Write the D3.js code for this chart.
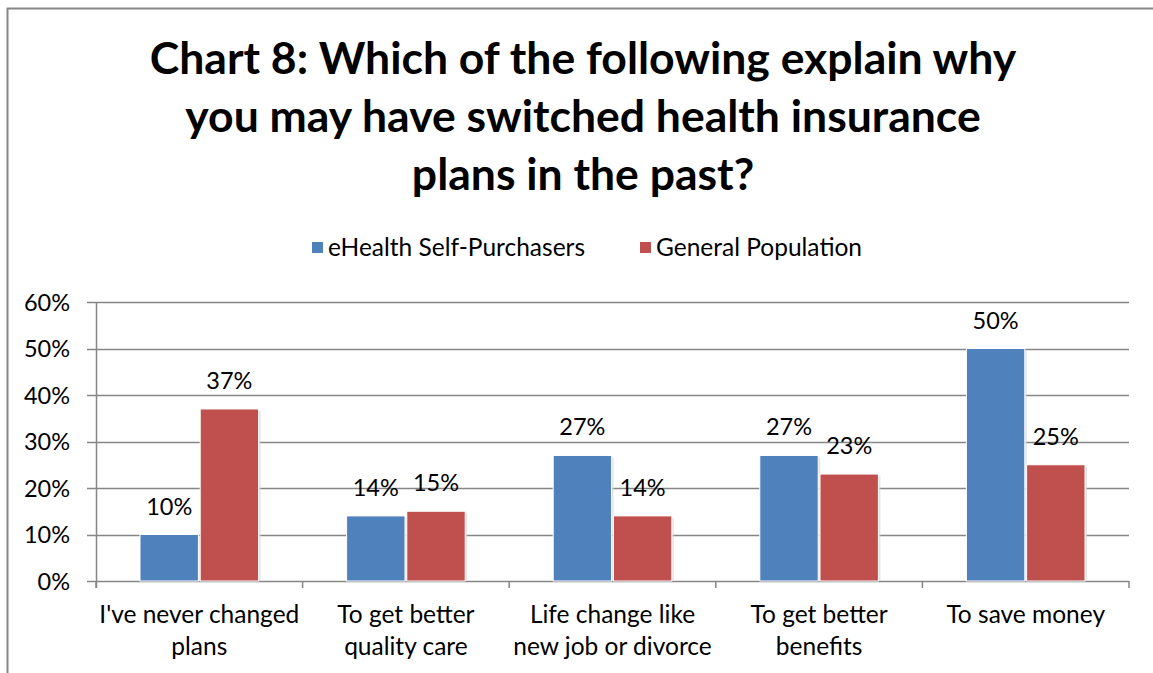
<!DOCTYPE html>
<html>
<head>
<meta charset="utf-8">
<script src="https://cdn.jsdelivr.net/npm/d3@7"></script>
<style>
  html, body { margin: 0; padding: 0; background: #fff; }
  svg { display: block; font-family: Lato, "Open Sans", sans-serif; }
</style>
</head>
<body>
<svg id="chart" width="1153" height="673"></svg>
<script>
// Survey answers and the share of each group choosing them
const categories = [
  ["I've never changed", "plans"],
  ["To get better", "quality care"],
  ["Life change like", "new job or divorce"],
  ["To get better", "benefits"],
  ["To save money"]
];
const seriesNames = ["eHealth Self-Purchasers", "General Population"];
const eHealthValues = [10, 14, 27, 27, 50];
const generalValues = [37, 15, 14, 23, 25];
const yTicks = [0, 10, 20, 30, 40, 50, 60];
const titleLines = [
  "Chart 8: Which of the following explain why",
  "you may have switched health insurance",
  "plans in the past?"
];
const colors = ["#4F81BD", "#C0504D"];

const svg = d3.select("#chart");

// outer frame
svg.append("rect")
  .attr("x", 7.5).attr("y", 8.5)
  .attr("width", 1160).attr("height", 680)
  .attr("fill", "none").attr("stroke", "#868686").attr("stroke-width", 2);

// title
svg.append("g").selectAll("text").data(titleLines).join("text")
  .attr("x", 583).attr("y", (d, i) => 74 + i * 58)
  .attr("text-anchor", "middle")
  .attr("font-size", 44.5).attr("font-weight", "bold").attr("fill", "#000")
  .text(d => d);

// legend
const legendX = [312, 640];
const legend = svg.append("g");
seriesNames.forEach((name, i) => {
  legend.append("rect")
    .attr("x", legendX[i]).attr("y", 242)
    .attr("width", 11).attr("height", 11)
    .attr("fill", colors[i]);
  legend.append("text")
    .attr("x", legendX[i] + 16).attr("y", 256)
    .attr("font-size", 24.5).attr("fill", "#000")
    .text(name);
});

// scales
const plotLeft = 96, plotRight = 1129, plotTop = 302, plotBottom = 581;
const x = d3.scaleBand().domain(d3.range(categories.length)).range([plotLeft, plotRight]);
const y = d3.scaleLinear().domain([0, 60]).range([plotBottom, plotTop]);
const groupPad = 44;
const xInner = d3.scaleBand().domain([0, 1])
  .range([0, x.bandwidth() - 2 * groupPad]).paddingInner(0.03);

// gridlines with outer tick marks
svg.append("g").selectAll("line").data(yTicks).join("line")
  .attr("x1", plotLeft - 9).attr("x2", plotRight)
  .attr("y1", d => Math.round(y(d)) + 0.5).attr("y2", d => Math.round(y(d)) + 0.5)
  .attr("stroke", "#868686").attr("stroke-width", 1.5);

// y axis labels
svg.append("g").selectAll("text").data(yTicks).join("text")
  .attr("x", 70).attr("y", d => y(d) + 8.5)
  .attr("text-anchor", "end").attr("font-size", 23.5).attr("fill", "#000")
  .text(d => d + "%");

// bars
const data = [eHealthValues, generalValues];
const barsG = svg.append("g");
data.forEach((vals, s) => {
  // soft shadow
  barsG.append("g").selectAll("rect").data(vals).join("rect")
    .attr("x", (d, i) => x(i) + groupPad + xInner(s) + 2)
    .attr("y", d => y(d) + 2)
    .attr("width", xInner.bandwidth())
    .attr("height", d => plotBottom - y(d) - 2)
    .attr("fill", "#d9d9d9").attr("opacity", 0.7);
  barsG.append("g").selectAll("rect").data(vals).join("rect")
    .attr("x", (d, i) => x(i) + groupPad + xInner(s))
    .attr("y", d => y(d))
    .attr("width", xInner.bandwidth())
    .attr("height", d => plotBottom - y(d))
    .attr("fill", colors[s])
    .attr("stroke", "#fff").attr("stroke-width", 1);
  barsG.append("g").selectAll("text").data(vals).join("text")
    .attr("x", (d, i) => x(i) + groupPad + xInner(s) + xInner.bandwidth() / 2)
    .attr("y", d => y(d) - 20)
    .attr("text-anchor", "middle").attr("font-size", 23.5).attr("fill", "#000")
    .text(d => d + "%");
});

// axes lines
svg.append("line")
  .attr("x1", plotLeft + 0.5).attr("x2", plotLeft + 0.5)
  .attr("y1", plotTop).attr("y2", plotBottom + 7)
  .attr("stroke", "#868686").attr("stroke-width", 1.5);
svg.append("g").selectAll("line").data(d3.range(categories.length + 1)).join("line")
  .attr("x1", i => i < categories.length ? x(i) : plotRight)
  .attr("x2", i => i < categories.length ? x(i) : plotRight)
  .attr("y1", plotBottom).attr("y2", plotBottom + 7)
  .attr("stroke", "#868686").attr("stroke-width", 1.5);

// category labels
const catG = svg.append("g").selectAll("text").data(categories).join("text")
  .attr("text-anchor", "middle").attr("font-size", 24.5).attr("fill", "#000");
catG.each(function(lines, i) {
  d3.select(this).selectAll("tspan").data(lines).join("tspan")
    .attr("x", x(i) + x.bandwidth() / 2)
    .attr("y", (d, j) => 623 + j * 32)
    .text(d => d);
});
</script>
</body>
</html>
